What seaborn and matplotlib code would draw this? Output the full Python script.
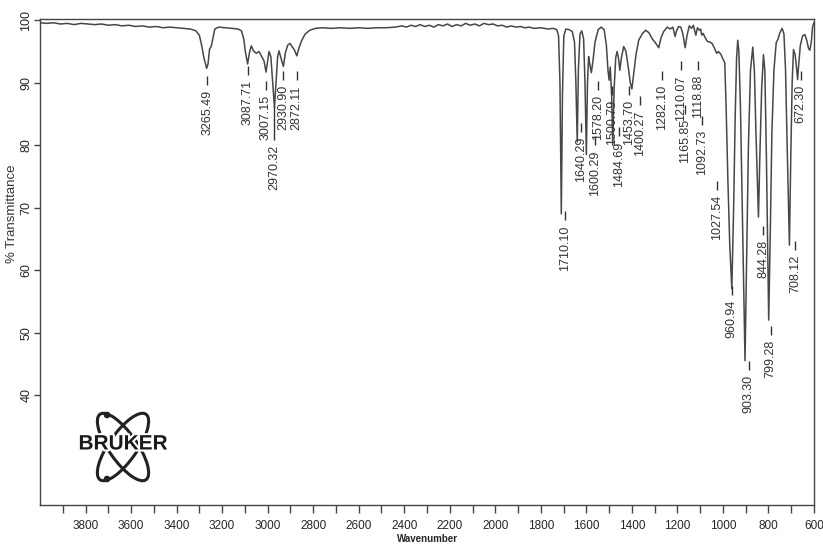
import numpy as np
import pandas as pd
import matplotlib
matplotlib.use("Agg")
import matplotlib.pyplot as plt
import seaborn as sns
from matplotlib.patches import Ellipse, Circle
import matplotlib.patheffects as pe

# --- datos del espectro ---
wavenumber = [
    4000, 3970, 3940, 3910, 3880, 3850, 3820, 3790, 3760, 3730, 3700, 3670, 3640, 3610,
    3580, 3550, 3520, 3490, 3460, 3430, 3400, 3370, 3340, 3315, 3300, 3290, 3280, 3268,
    3262, 3255, 3248, 3240, 3232, 3215, 3190, 3160, 3130, 3115, 3105, 3098, 3088, 3080,
    3072, 3062, 3050, 3038, 3028, 3016, 3007, 3000, 2994, 2986, 2978, 2970, 2963, 2956,
    2950, 2942, 2931, 2922, 2912, 2902, 2893, 2883, 2872, 2862, 2850, 2835, 2815, 2790,
    2760, 2720, 2680, 2640, 2600, 2560, 2520, 2480, 2440, 2410, 2390, 2370, 2350, 2330,
    2310, 2290, 2270, 2250, 2230, 2210, 2190, 2170, 2150, 2130, 2110, 2090, 2070, 2050,
    2030, 2010, 1990, 1970, 1950, 1930, 1910, 1890, 1870, 1850, 1830, 1800, 1770, 1745,
    1730, 1722, 1716, 1710, 1705, 1699, 1690, 1676, 1662, 1652, 1646, 1640, 1635, 1628,
    1620, 1612, 1606, 1600, 1595, 1590, 1585, 1578, 1571, 1562, 1548, 1535, 1522, 1512,
    1505, 1500, 1495, 1489, 1484, 1478, 1471, 1465, 1459, 1453, 1446, 1436, 1426, 1416,
    1407, 1400, 1392, 1382, 1370, 1355, 1340, 1325, 1310, 1295, 1282, 1272, 1260, 1245,
    1232, 1220, 1214, 1210, 1204, 1195, 1185, 1176, 1166, 1158, 1148, 1138, 1130, 1124,
    1119, 1112, 1104, 1098, 1093, 1087, 1078, 1068, 1058, 1048, 1038, 1030, 1027, 1020,
    1010, 1000, 992, 986, 978, 970, 961, 953, 946, 940, 935, 930, 923, 915,
    903, 896, 888, 879, 869, 862, 855, 844, 838, 830, 822, 816, 809, 799,
    792, 785, 776, 766, 758, 750, 740, 732, 725, 718, 708, 702, 696, 690,
    683, 677, 672, 667, 660, 650, 640, 632, 624, 618, 612, 606, 600,
]
transmittance = [
    99.6, 99.5, 99.6, 99.4, 99.5, 99.3, 99.5, 99.4, 99.3, 99.4, 99.2, 99.3, 99.1, 99.2,
    99.0, 99.1, 98.9, 99.0, 98.8, 98.9, 98.8, 98.7, 98.6, 98.3, 97.6, 96.0, 94.0, 92.3,
    93.0, 95.4, 95.8, 97.2, 98.6, 98.9, 98.8, 98.7, 98.6, 98.3, 97.0, 95.0, 93.0, 94.8,
    95.9, 95.1, 94.7, 95.0, 94.3, 93.5, 91.7, 93.5, 95.0, 94.2, 90.0, 86.0, 90.0, 94.2,
    95.1, 94.0, 92.6, 94.8, 96.0, 96.3, 95.8, 95.3, 94.3, 95.6, 96.8, 97.8, 98.4, 98.7,
    98.8, 98.7, 98.8, 98.7, 98.8, 98.7, 98.8, 98.8, 98.9, 99.1, 98.9, 99.2, 99.0, 99.3,
    99.0, 99.2, 98.9, 99.3, 99.1, 99.4, 99.0, 99.3, 99.1, 99.5, 99.2, 99.4, 99.1, 99.5,
    99.3, 99.4, 99.1, 99.2, 98.9, 99.1, 98.9, 99.0, 98.8, 98.9, 98.7, 98.8, 98.6, 98.7,
    98.5, 97.5, 90.0, 69.0, 88.0, 97.5, 98.6, 98.5, 98.2, 96.5, 90.0, 80.5, 92.0, 97.8,
    98.3, 97.0, 90.0, 78.5, 90.0, 94.2, 93.0, 91.6, 93.5, 96.5, 98.5, 98.9, 98.5, 96.0,
    92.0, 90.4, 92.5, 88.0, 80.0, 89.0, 94.0, 95.0, 94.0, 92.0, 94.0, 95.8, 95.0, 92.5,
    90.0, 89.0, 91.5, 94.5, 96.8, 97.8, 98.4, 98.0, 97.0, 96.3, 95.6, 97.2, 98.2, 98.9,
    98.6, 98.9, 98.0, 97.4, 98.3, 99.0, 98.9, 97.8, 95.6, 97.5, 99.1, 98.7, 99.2, 98.3,
    97.6, 98.8, 98.4, 98.6, 97.6, 97.9, 97.2, 96.6, 96.5, 96.3, 95.6, 94.9, 94.7, 95.0,
    94.6, 93.8, 93.2, 86.0, 74.0, 64.0, 57.0, 70.0, 85.0, 94.0, 96.8, 95.0, 86.0, 70.0,
    45.5, 62.0, 80.0, 92.0, 95.7, 92.0, 82.0, 68.5, 78.0, 89.0, 94.5, 92.0, 78.0, 52.0,
    66.0, 82.0, 92.0, 96.4, 97.0, 98.0, 98.7, 97.8, 92.0, 80.0, 64.0, 78.0, 90.0, 95.3,
    94.5, 92.5, 90.5, 93.0, 96.0, 97.5, 97.7, 96.8, 95.5, 95.2, 96.5, 99.0, 99.6,
]

# etiquetas de picos
peak_labels = [
    "3265.49", "3087.71", "3007.15", "2970.32", "2930.90", "2872.11",
    "1710.10", "1640.29", "1600.29", "1578.20", "1500.79", "1484.69",
    "1453.70", "1400.27", "1282.10", "1210.07", "1165.85", "1118.88",
    "1092.73", "1027.54", "960.94", "903.30", "844.28", "799.28",
    "708.12", "672.30",
]

x_ticks = list(range(3800, 599, -200))
y_ticks = [40, 50, 60, 70, 80, 90, 100]

df = pd.DataFrame({"Wavenumber": wavenumber, "T": transmittance})

# --- disposición de las etiquetas (parte superior del texto en % T,
#     desplazamiento horizontal en cm-1 y largo del guion) ---
label_top = [
    88.8, 90.4, 88.0, 80.0, 89.6, 89.6,
    67.2, 81.3, 79.2, 88.0, 87.2, 80.6,
    87.2, 85.6, 89.6, 91.2, 84.2, 91.2,
    82.4, 72.0, 55.2, 43.2, 64.8, 48.8,
    62.4, 89.6,
]
label_shift = [
    0, 0, 0, 0, 0, 0,
    -17, -17, -40, -30, -12, -28,
    -40, -35, -13, -26, 0, -9,
    0, 0, 0, -17, -22, -9,
    -26, -13,
]
dash_len = [1.5] * len(peak_labels)
dash_len[3] = 5.4

sns.set_theme(style="ticks")
plt.rcParams["font.family"] = ["Liberation Sans", "DejaVu Sans"]

W, H = 823, 545
fig = plt.figure(figsize=(W / 100, H / 100), dpi=100)
ax = fig.add_axes([40 / W, 1 - 505 / H, 774 / W, 486 / H])

sns.lineplot(data=df, x="Wavenumber", y="T", ax=ax, color="#474747",
             linewidth=1.1, estimator=None)

ax.set_xlim(4000, 600)
ax.set_ylim(22.4, 100.2)

ax.set_xticks(list(range(3900, 599, -100)))
ax.set_xticklabels([str(v) if v in x_ticks else "" for v in range(3900, 599, -100)],
                   fontsize=8.5)
ax.set_yticks(y_ticks)
ax.set_yticklabels([str(v) for v in y_ticks], rotation=90, va="center", fontsize=9)
ax.tick_params(axis="x", length=6, width=1, pad=5, color="#444444")
ax.tick_params(axis="y", length=4, width=1, pad=1.5, color="#444444")

for s in ax.spines.values():
    s.set_color("#444444")
    s.set_linewidth(1.0)

ax.set_xlabel("Wavenumber", fontsize=7, fontweight="bold", labelpad=1)
ax.set_ylabel("% Transmittance", fontsize=9.5, color="#333333")
ax.yaxis.set_label_coords(-0.029, 0.6)

# etiquetas de picos con guion
for lab, top, sh, dl in zip(peak_labels, label_top, label_shift, dash_len):
    wn = float(lab) + sh
    ax.text(wn, top, lab, rotation=90, ha="center", va="top", fontsize=9,
            color="#333333")
    ax.vlines(wn, top + 0.8, top + 0.8 + dl, color="#333333", linewidth=1.0)

# logo
lax = fig.add_axes([75 / W, 1 - 485 / H, 100 / W, 80 / H])
lax.set_xlim(0, 100)
lax.set_ylim(0, 80)
lax.axis("off")
for ang in (55, 125):
    lax.add_patch(Ellipse((48, 38), 80, 28, angle=ang, fill=False,
                          edgecolor="#222222", linewidth=2.2))
lax.add_patch(Circle((32, 70), 2.6, color="#222222"))
lax.add_patch(Circle((32, 6), 2.6, color="#222222"))
lax.text(48, 41, "BRUKER", ha="center", va="center", fontsize=15,
         fontweight="bold", color="#1a1a1a",
         path_effects=[pe.withStroke(linewidth=3, foreground="white")])

fig.savefig("out.png", dpi=100)
